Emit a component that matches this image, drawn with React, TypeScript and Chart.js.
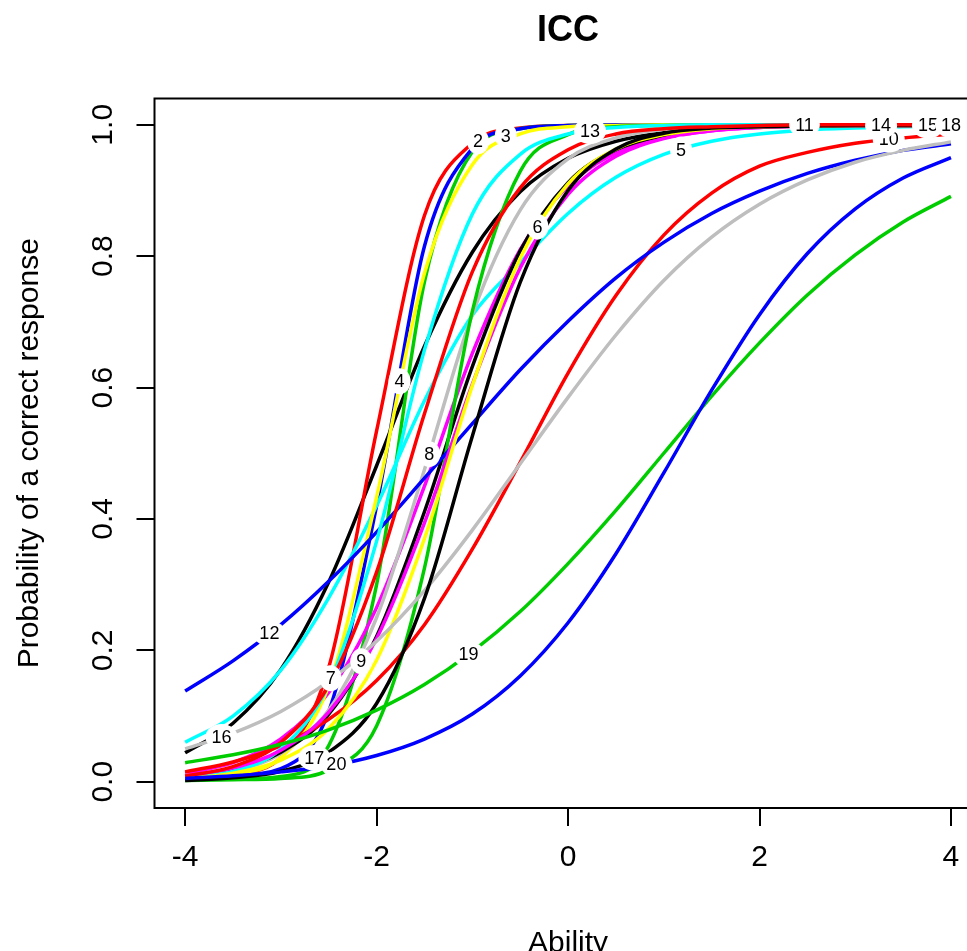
import React, { useEffect, useRef } from "react";
import { Chart, registerables } from "chart.js";

Chart.register(...registerables);

// Ability grid (x values)
const abilities = [-4, -3.5, -3, -2.5, -2, -1.5, -1, -0.5, 0, 0.5, 1, 1.5, 2, 2.5, 3, 3.5, 4];

// Probability of a correct response for each item
const item1 = [0.044, 0.089, 0.171, 0.304, 0.481, 0.663, 0.806, 0.898, 0.949, 0.975, 0.988, 0.994, 0.997, 0.998, 0.999, 0.999, 0.999];
const item2 = [0.010, 0.013, 0.037, 0.174, 0.534, 0.862, 0.972, 0.995, 0.999, 1, 1, 1, 1, 1, 1, 1, 1];
const item3 = [0.003, 0.004, 0.008, 0.055, 0.30, 0.761, 0.959, 0.994, 0.999, 1, 1, 1, 1, 1, 1, 1, 1];
const item4 = [0.008, 0.010, 0.020, 0.107, 0.42, 0.815, 0.964, 0.994, 0.999, 1, 1, 1, 1, 1, 1, 1, 1];
const item5 = [0.06, 0.10, 0.17, 0.28, 0.42, 0.58, 0.71, 0.79, 0.865, 0.92, 0.955, 0.975, 0.986, 0.992, 0.995, 0.997, 0.998];
const item6 = [0.013, 0.029, 0.065, 0.136, 0.265, 0.45, 0.652, 0.81, 0.907, 0.957, 0.98, 0.991, 0.996, 0.998, 0.999, 0.999, 0.999];
const item7 = [0.010, 0.013, 0.037, 0.146, 0.433, 0.774, 0.939, 0.986, 0.997, 0.999, 1, 1, 1, 1, 1, 1, 1];
const item8 = [0.006, 0.016, 0.043, 0.109, 0.25, 0.475, 0.711, 0.87, 0.948, 0.98, 0.993, 0.997, 0.998, 0.999, 0.999, 0.999, 0.999];
const item9 = [0.008, 0.019, 0.045, 0.103, 0.221, 0.411, 0.632, 0.808, 0.912, 0.962, 0.984, 0.993, 0.997, 0.998, 0.999, 0.999, 0.999];
const item10 = [0.015, 0.03, 0.055, 0.095, 0.154, 0.239, 0.354, 0.486, 0.622, 0.74, 0.832, 0.896, 0.937, 0.958, 0.972, 0.98, 0.986];
const item11 = [0.002, 0.003, 0.005, 0.018, 0.085, 0.325, 0.716, 0.929, 0.985, 0.997, 0.999, 1, 1, 1, 1, 1, 1];
const item12 = [0.138, 0.184, 0.239, 0.305, 0.38, 0.462, 0.545, 0.627, 0.701, 0.767, 0.821, 0.865, 0.899, 0.926, 0.946, 0.961, 0.971];
const item13 = [0.008, 0.016, 0.05, 0.148, 0.366, 0.657, 0.864, 0.955, 0.986, 0.996, 0.999, 1, 1, 1, 1, 1, 1];
const item14 = [0.009, 0.021, 0.048, 0.106, 0.218, 0.394, 0.605, 0.782, 0.894, 0.952, 0.979, 0.991, 0.996, 0.998, 0.999, 0.999, 0.999];
const item15 = [0.005, 0.013, 0.033, 0.081, 0.185, 0.37, 0.603, 0.797, 0.91, 0.963, 0.985, 0.994, 0.997, 0.998, 0.999, 0.999, 0.999];
const item16 = [0.05, 0.074, 0.107, 0.153, 0.214, 0.291, 0.383, 0.484, 0.585, 0.68, 0.763, 0.829, 0.879, 0.916, 0.943, 0.961, 0.974];
const item17 = [0.002, 0.006, 0.016, 0.045, 0.119, 0.279, 0.526, 0.76, 0.9, 0.963, 0.987, 0.995, 0.997, 0.998, 0.999, 0.999, 0.999];
const item18 = [0.0085, 0.023, 0.06, 0.147, 0.319, 0.56, 0.776, 0.904, 0.962, 0.986, 0.994, 0.997, 0.999, 1, 1, 1, 1];
const item19 = [0.029, 0.041, 0.057, 0.079, 0.109, 0.148, 0.198, 0.259, 0.332, 0.413, 0.5, 0.587, 0.668, 0.741, 0.802, 0.852, 0.891];
const item20 = [0.005, 0.009, 0.015, 0.024, 0.04, 0.065, 0.103, 0.161, 0.242, 0.347, 0.47, 0.596, 0.711, 0.804, 0.872, 0.919, 0.95];

const items = [item1, item2, item3, item4, item5, item6, item7, item8, item9, item10,
  item11, item12, item13, item14, item15, item16, item17, item18, item19, item20];

// R default palette cycling over the 20 items
const palette = ["#000000", "#FF0000", "#00CD00", "#0000FF", "#00FFFF", "#FF00FF", "#FFFF00", "#BEBEBE"];

// Ability at which each item's number is written on its curve (null = not shown)
const labelAbility: (number | null)[] = [null, -0.94, -0.65, -1.76, 1.18, -0.32, -2.48, -1.45, -2.16, 3.35,
  2.47, -3.12, 0.23, 3.27, 3.76, -3.62, -2.65, 4.0, -1.04, -2.42];

const xTicks = [-4, -2, 0, 2, 4];
const xTickLabels = ["-4", "-2", "0", "2", "4"];
const yTicks = [0, 0.2, 0.4, 0.6, 0.8, 1.0];
const yTickLabels = ["0.0", "0.2", "0.4", "0.6", "0.8", "1.0"];

const titleText = "ICC";
const xTitle = "Ability";
const yTitle = "Probability of a correct response";

const FONT = '"Liberation Sans", Arial, Helvetica, sans-serif';

function valueAt(vals: number[], x: number): number {
  for (let j = 0; j < abilities.length - 1; j++) {
    if (x >= abilities[j] && x <= abilities[j + 1]) {
      const t = (x - abilities[j]) / (abilities[j + 1] - abilities[j]);
      return vals[j] + t * (vals[j + 1] - vals[j]);
    }
  }
  return vals[vals.length - 1];
}

const rPlot = {
  id: "rPlot",
  afterDatasetsDraw(chart: any) {
    const ctx = chart.ctx as CanvasRenderingContext2D;
    const xs = chart.scales.x;
    const ys = chart.scales.y;
    ctx.save();
    ctx.font = `18px ${FONT}`;
    ctx.textAlign = "center";
    ctx.textBaseline = "middle";
    items.forEach((vals, i) => {
      const lx = labelAbility[i];
      if (lx === null) return;
      const px = xs.getPixelForValue(lx);
      const py = ys.getPixelForValue(valueAt(vals, lx));
      const txt = String(i + 1);
      const w = ctx.measureText(txt).width;
      ctx.fillStyle = "#ffffff";
      ctx.beginPath();
      ctx.ellipse(px, py, w / 2 + 6, 13, 0, 0, Math.PI * 2);
      ctx.fill();
      ctx.fillStyle = "#000000";
      ctx.fillText(txt, px, py + 1);
    });
    ctx.restore();
  },
  afterDraw(chart: any) {
    const ctx = chart.ctx as CanvasRenderingContext2D;
    const { left, right, top, bottom } = chart.chartArea;
    const xs = chart.scales.x;
    const ys = chart.scales.y;
    ctx.save();
    ctx.strokeStyle = "#000000";
    ctx.fillStyle = "#000000";
    ctx.lineWidth = 2;
    ctx.strokeRect(left, top, right - left, bottom - top);

    // x axis
    ctx.beginPath();
    xTicks.forEach((v) => {
      const px = Math.round(xs.getPixelForValue(v));
      ctx.moveTo(px, bottom);
      ctx.lineTo(px, bottom + 18);
    });
    ctx.stroke();
    ctx.font = `30px ${FONT}`;
    ctx.textAlign = "center";
    ctx.textBaseline = "alphabetic";
    xTicks.forEach((v, k) => {
      ctx.fillText(xTickLabels[k], xs.getPixelForValue(v), bottom + 58);
    });

    // y axis
    ctx.beginPath();
    yTicks.forEach((v) => {
      const py = Math.round(ys.getPixelForValue(v));
      ctx.moveTo(left, py);
      ctx.lineTo(left - 18, py);
    });
    ctx.stroke();
    yTicks.forEach((v, k) => {
      ctx.save();
      ctx.translate(left - 43, ys.getPixelForValue(v));
      ctx.rotate(-Math.PI / 2);
      ctx.fillText(yTickLabels[k], 0, 0);
      ctx.restore();
    });

    // axis titles
    const cx = (left + right) / 2;
    ctx.fillText(xTitle, cx, 952);
    ctx.save();
    ctx.translate(38, (top + bottom) / 2);
    ctx.rotate(-Math.PI / 2);
    ctx.fillText(yTitle, 0, 0);
    ctx.restore();

    // main title
    ctx.font = `bold 36px ${FONT}`;
    ctx.fillText(titleText, cx, 41);
    ctx.restore();
  },
};

export default function App() {
  const ref = useRef<HTMLCanvasElement>(null);
  useEffect(() => {
    const canvas = ref.current!;
    const chart = new Chart(canvas, {
      type: "line",
      data: {
        datasets: items.map((vals, i) => ({
          label: `Item ${i + 1}`,
          data: abilities.map((x, j) => ({ x, y: vals[j] })),
          borderColor: palette[i % palette.length],
          backgroundColor: palette[i % palette.length],
          borderWidth: 3.5,
          pointRadius: 0,
          fill: false,
          cubicInterpolationMode: "monotone" as const,
          // later items are drawn on top, as in the original
          order: items.length - i,
        })),
      },
      options: {
        responsive: false,
        animation: false,
        devicePixelRatio: 1,
        layout: { padding: { left: 154.5, right: 990 - 981.6, top: 98.5, bottom: 951 - 808 } },
        scales: {
          x: { type: "linear", min: -4.32, max: 4.32, display: false },
          y: { type: "linear", min: -0.04, max: 1.04, display: false },
        },
        plugins: {
          legend: { display: false },
          tooltip: { enabled: false },
          title: { display: false },
        },
      },
      plugins: [rPlot],
    });
    return () => chart.destroy();
  }, []);
  return (
    <div style={{ position: "fixed", left: 0, top: 0, width: 990, height: 951, background: "#ffffff", overflow: "hidden" }}>
      <canvas ref={ref} width={990} height={951} style={{ width: 990, height: 951, display: "block" }} />
    </div>
  );
}
